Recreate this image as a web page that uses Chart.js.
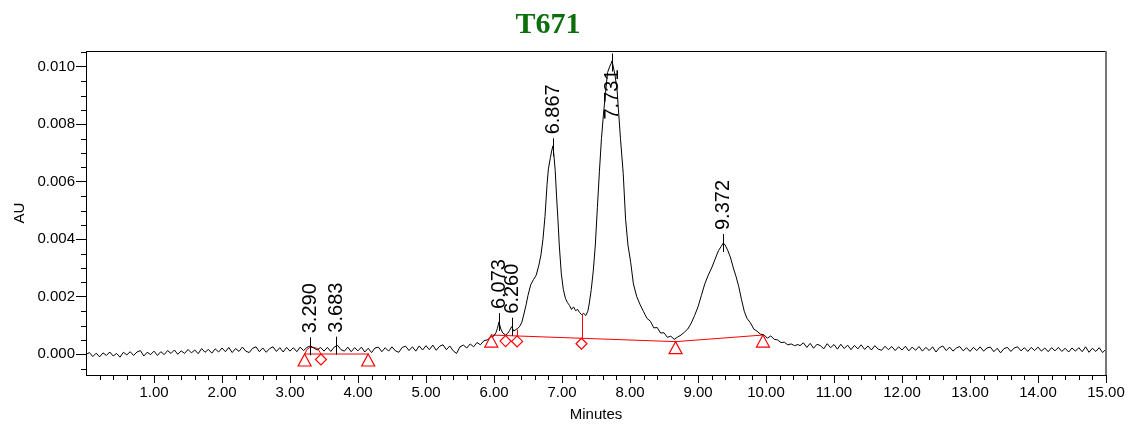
<!DOCTYPE html>
<html>
<head>
<meta charset="utf-8">
<script src="https://cdn.jsdelivr.net/npm/chart.js@4.4.1/dist/chart.umd.min.js"></script>
<style>
  html, body { margin: 0; padding: 0; background: #fff; }
  #wrap { width: 1133px; height: 427px; position: relative; }
</style>
</head>
<body>
<div id="wrap"><canvas id="chart"></canvas></div>
<script>
// signal values in micro-AU, times in minutes
const traceStart = [
  [0.00,-10],[0.05,60],[0.10,-80],[0.15,40],[0.20,-90],[0.25,50],[0.30,-40],[0.35,80],[0.40,-60],[0.45,30],
  [0.50,-100],[0.55,70],[0.60,-20],[0.65,90],[0.70,-40],[0.75,80],[0.80,130],[0.85,-60],[0.90,70],[0.95,-10],
  [1.00,110],[1.05,-40],[1.10,90],[1.15,-10],[1.20,130],[1.25,30],[1.30,150],[1.35,0],[1.40,120],[1.45,30],
  [1.50,170],[1.55,50],[1.60,150],[1.65,20],[1.70,200],[1.75,70],[1.80,170],[1.85,40],[1.90,190],[1.95,80],
  [2.00,220],[2.05,90],[2.10,240],[2.15,60],[2.20,200],[2.25,100],[2.30,250],[2.35,110],[2.40,60],[2.45,210],
  [2.50,260],[2.55,90],[2.60,220],[2.65,70],[2.70,200],[2.75,260],[2.80,100],[2.85,230],[2.90,80],[2.95,240],
  [3.00,110],[3.05,230],[3.10,90],[3.15,250],[3.20,130],[3.25,240],[3.30,290],[3.35,220],[3.40,150],[3.45,240],
  [3.50,110],[3.55,240],[3.60,100],[3.65,250],[3.70,310],[3.75,160],[3.80,110],[3.85,250],[3.90,90],[3.95,230],
  [4.00,120],[4.05,250],[4.10,80],[4.15,210],[4.20,60],[4.25,220],[4.30,250],[4.35,90],[4.40,230],[4.45,110],
  [4.50,260],[4.55,120],[4.60,70],[4.65,240],[4.70,280],[4.75,130],[4.80,260],[4.85,110],[4.90,290],[4.95,150],
  [5.00,300],[5.05,160],[5.10,320],[5.15,140],[5.20,280],[5.25,330],[5.30,160],[5.35,290],[5.40,120],[5.45,30],
  [5.50,260],[5.55,320],[5.60,220],[5.65,360],[5.70,260],[5.75,410],[5.80,330],[5.85,470]
];
const tracePeaks = [
  [5.90,500],[5.95,600],[6.00,640],[6.03,760],[6.05,900],[6.073,1120],[6.10,880],[6.13,740],[6.17,670],[6.20,720],
  [6.23,830],[6.26,960],[6.29,810],[6.32,860],[6.35,900],[6.38,980],[6.41,1120],[6.44,1400],[6.47,1700],[6.50,2050],
  [6.54,2420],[6.58,2600],[6.62,2750],[6.66,3100],[6.69,3450],[6.72,4000],[6.75,4800],[6.78,5900],[6.80,6450],[6.83,6850],
  [6.85,7100],[6.867,7250],[6.88,6950],[6.90,6400],[6.92,5500],[6.94,4700],[6.96,3800],[6.99,2800],[7.02,2250],[7.05,1950],
  [7.08,1800],[7.11,1700],[7.14,1560],[7.17,1650],[7.20,1520],[7.23,1560],[7.26,1450],[7.29,1380],[7.32,1420],[7.35,1350],
  [7.38,1500],[7.40,1750],[7.43,2250],[7.46,2900],[7.49,3800],[7.52,5100],[7.55,6350],[7.58,7500],[7.61,8350],[7.64,9100],
  [7.67,9800],[7.70,10000],[7.72,10100],[7.735,10200],[7.75,10050],[7.78,9700],[7.81,9200],[7.83,8500],[7.86,7500],[7.88,6900],
  [7.90,6300],[7.935,4700],[7.97,3800],[8.01,3200],[8.05,2450],[8.10,2000],[8.15,1720],[8.20,1480],[8.25,1250],[8.30,1150],
  [8.35,920],[8.40,930],[8.45,740],[8.50,750],[8.55,590],[8.60,630],[8.65,520],[8.70,600],[8.75,670],[8.80,770],
  [8.85,880],[8.90,1080],[8.95,1350],[9.00,1650],[9.05,2050],[9.10,2450],[9.15,2750],[9.20,3000],[9.25,3300],[9.30,3600],
  [9.34,3750],[9.372,3870],[9.40,3800],[9.44,3600],[9.48,3350],[9.52,3000],[9.56,2700],[9.60,2350],[9.64,1900],[9.68,1500],
  [9.72,1250],[9.77,1100],[9.82,880],[9.87,800],[9.92,700],[9.97,680],[10.02,560],[10.07,640],[10.12,520],[10.17,500],
  [10.22,410],[10.27,420],[10.32,330],[10.37,360],[10.42,300],[10.47,340]
];
const traceEnd = [
  [10.50,300],[10.55,400],[10.60,240],[10.65,380],[10.70,210],[10.75,350],[10.80,300],[10.85,190],[10.90,370],[10.95,230],
  [11.00,340],[11.05,180],[11.10,350],[11.15,200],[11.20,320],[11.25,160],[11.30,310],[11.35,190],[11.40,330],[11.45,170],
  [11.50,290],[11.55,150],[11.60,300],[11.65,180],[11.70,140],[11.75,280],[11.80,160],[11.85,270],[11.90,130],[11.95,260],
  [12.00,150],[12.05,280],[12.10,120],[12.15,250],[12.20,140],[12.25,270],[12.30,110],[12.35,240],[12.40,130],[12.45,260],
  [12.50,80],[12.55,230],[12.60,290],[12.65,130],[12.70,250],[12.75,110],[12.80,220],[12.85,270],[12.90,120],[12.95,230],
  [13.00,100],[13.05,240],[13.10,130],[13.15,260],[13.20,110],[13.25,220],[13.30,250],[13.35,90],[13.40,210],[13.45,50],
  [13.50,200],[13.55,240],[13.60,100],[13.65,220],[13.70,260],[13.75,120],[13.80,230],[13.85,100],[13.90,240],[13.95,130],
  [14.00,250],[14.05,110],[14.10,220],[14.15,90],[14.20,230],[14.25,120],[14.30,240],[14.35,100],[14.40,210],[14.45,80],
  [14.50,220],[14.55,110],[14.60,230],[14.65,90],[14.70,260],[14.75,70],[14.80,210],[14.85,100],[14.90,230],[14.95,60],
  [15.00,180]
];

// integration baselines (red)
const baselineA = [[3.215,10],[4.15,10]];
const baselineArc = [[3.215,10],[3.25,170],[3.29,235],[3.35,240],[3.41,200],[3.455,10]];
const baselineB = [[5.96,670],[8.67,440],[9.955,670]];
const triangleMarks = [[3.215,10],[4.15,10],[5.96,670],[8.67,440],[9.955,670]];
const diamondMarks = [[3.455,10],[6.17,650],[6.34,640],[7.287,560]];
const dropLines = [[7.287,560,1380],[6.34,640,860]]; // time, from, to

// peaks
const peakTimes = [3.290, 3.683, 6.073, 6.260, 6.867, 7.731, 9.372];
const peakHeights = [280, 300, 1120, 960, 7200, 10150, 3870];

// axes
const xTicks = [1,2,3,4,5,6,7,8,9,10,11,12,13,14,15];
const yTicks = [0, 0.002, 0.004, 0.006, 0.008, 0.010];

const toXY = arr => arr.map(([t, v]) => ({ x: t, y: v / 1e6 }));

const decor = {
  id: 'decor',
  beforeDraw(chart) {
    const ctx = chart.ctx;
    ctx.save();
    ctx.fillStyle = '#fff';
    ctx.fillRect(0, 0, chart.width, chart.height);
    ctx.restore();
  },
  afterDatasetsDraw(chart) {
    const { ctx, chartArea: a, scales: { x, y } } = chart;
    ctx.save();
    // frame top + right
    ctx.strokeStyle = '#000';
    ctx.lineWidth = 1;
    ctx.beginPath();
    ctx.moveTo(a.left, a.top + 0.5);
    ctx.lineTo(a.right, a.top + 0.5);
    ctx.stroke();
    ctx.strokeStyle = '#777';
    ctx.lineWidth = 2;
    ctx.beginPath();
    ctx.moveTo(a.right, a.top);
    ctx.lineTo(a.right, a.bottom);
    ctx.stroke();

    // minor ticks
    ctx.strokeStyle = '#000';
    ctx.lineWidth = 1;
    ctx.beginPath();
    for (let k = -1; k <= 21; k++) {
      if (k % 4 === 0) continue;
      const py = Math.round(y.getPixelForValue(k * 0.0005)) + 0.5;
      ctx.moveTo(a.left - 5, py);
      ctx.lineTo(a.left, py);
    }
    for (let k = 1; k < 75; k++) {
      if (k % 5 === 0) continue;
      const px = Math.round(x.getPixelForValue(k * 0.2)) + 0.5;
      ctx.moveTo(px, a.bottom);
      ctx.lineTo(px, a.bottom + 5);
    }
    ctx.stroke();

    // red drop lines
    ctx.strokeStyle = '#ff0000';
    ctx.beginPath();
    dropLines.forEach(([t, v0, v1]) => {
      const px = Math.round(x.getPixelForValue(t)) + 0.5;
      ctx.moveTo(px, y.getPixelForValue(v0 / 1e6));
      ctx.lineTo(px, y.getPixelForValue(v1 / 1e6));
    });
    ctx.stroke();

    // triangles: apex on the baseline point
    ctx.lineWidth = 1.2;
    triangleMarks.forEach(([t, v]) => {
      const px = x.getPixelForValue(t), py = y.getPixelForValue(v / 1e6);
      ctx.beginPath();
      ctx.moveTo(px, py);
      ctx.lineTo(px + 6.5, py + 12);
      ctx.lineTo(px - 6.5, py + 12);
      ctx.closePath();
      ctx.stroke();
    });
    // diamonds: top vertex on the baseline point
    diamondMarks.forEach(([t, v]) => {
      const px = x.getPixelForValue(t), py = y.getPixelForValue(v / 1e6);
      ctx.beginPath();
      ctx.moveTo(px, py);
      ctx.lineTo(px + 5.5, py + 5.5);
      ctx.lineTo(px, py + 11);
      ctx.lineTo(px - 5.5, py + 5.5);
      ctx.closePath();
      ctx.stroke();
    });

    // peak apex marks + retention time labels
    ctx.strokeStyle = '#000';
    ctx.lineWidth = 1;
    ctx.fillStyle = '#000';
    ctx.font = '20px "Liberation Sans", Arial, sans-serif';
    ctx.textAlign = 'left';
    ctx.textBaseline = 'middle';
    peakTimes.forEach((t, i) => {
      const px = Math.round(x.getPixelForValue(t)) + 0.5;
      const py = y.getPixelForValue(peakHeights[i] / 1e6);
      ctx.beginPath();
      ctx.moveTo(px, py - 9);
      ctx.lineTo(px, py + 9);
      ctx.stroke();
      const label = t.toFixed(3);
      const w = ctx.measureText(label).width;
      let start = py - 13;
      if (start - w < a.top + 8) start = py + 7 + w;
      ctx.save();
      ctx.translate(px, start);
      ctx.rotate(-Math.PI / 2);
      ctx.fillText(label, 0, 0);
      ctx.restore();
    });

    // title
    ctx.fillStyle = '#0c6e0c';
    ctx.font = 'bold 30px "Liberation Serif", "Times New Roman", serif';
    ctx.textAlign = 'center';
    ctx.textBaseline = 'alphabetic';
    ctx.fillText('T671', 548, 33);
    ctx.restore();
  }
};

const redLine = { borderColor: '#ff0000', borderWidth: 1, pointRadius: 0, tension: 0, fill: false };

new Chart(document.getElementById('chart'), {
  type: 'line',
  data: {
    datasets: [
      { data: toXY([...traceStart, ...tracePeaks, ...traceEnd]), borderColor: '#000', borderWidth: 1, pointRadius: 0, tension: 0, fill: false },
      { data: toXY(baselineA), ...redLine },
      { data: toXY(baselineArc), ...redLine },
      { data: toXY(baselineB), ...redLine }
    ]
  },
  options: {
    responsive: true,
    maintainAspectRatio: false,
    animation: false,
    devicePixelRatio: 1,
    layout: { padding: { top: 51, right: 27, left: 0, bottom: 0 } },
    plugins: { legend: { display: false }, tooltip: { enabled: false } },
    scales: {
      x: {
        type: 'linear',
        min: 0,
        max: 15,
        afterFit: s => { s.height = 52; },
        afterBuildTicks: s => { s.ticks = xTicks.map(v => ({ value: v })); },
        grid: { display: true, drawOnChartArea: false, drawTicks: true, tickLength: 8, color: '#000' },
        border: { display: true, color: '#000', width: 1 },
        ticks: {
          color: '#000', padding: 1, maxRotation: 0, autoSkip: false,
          font: { family: '"Liberation Sans", Arial, sans-serif', size: 15 },
          callback: v => Number(v).toFixed(2)
        },
        title: {
          display: true, text: 'Minutes', color: '#000',
          font: { family: '"Liberation Sans", Arial, sans-serif', size: 15 },
          padding: { top: 0, bottom: 3 }
        }
      },
      y: {
        min: -0.00072,
        max: 0.01055,
        afterFit: s => { s.width = 86; },
        afterBuildTicks: s => { s.ticks = yTicks.map(v => ({ value: v })); },
        grid: { display: true, drawOnChartArea: false, drawTicks: true, tickLength: 10, color: '#000' },
        border: { display: true, color: '#000', width: 1 },
        ticks: {
          color: '#000', padding: 1, autoSkip: false,
          font: { family: '"Liberation Sans", Arial, sans-serif', size: 15 },
          callback: v => Number(v).toFixed(3)
        },
        title: {
          display: true, text: 'AU', color: '#000',
          font: { family: '"Liberation Sans", Arial, sans-serif', size: 15 },
          padding: { top: 11, bottom: 0 }
        }
      }
    }
  },
  plugins: [decor]
});
</script>
</body>
</html>
